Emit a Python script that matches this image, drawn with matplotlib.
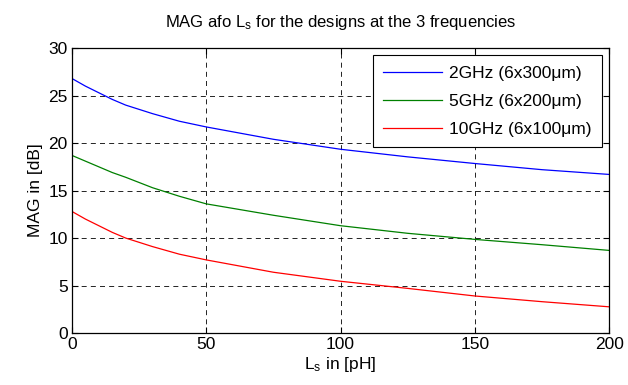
import matplotlib
matplotlib.use("Agg")
import matplotlib.pyplot as plt

plt.rcParams['font.family'] = ['Liberation Sans', 'DejaVu Sans']
plt.rcParams['mathtext.default'] = 'regular'

# Ls sweep in pH
ls = [0, 5, 10, 15, 20, 30, 40, 50, 75, 100, 125, 150, 175, 200]
mag_2g = [26.8, 26.0, 25.3, 24.6, 24.0, 23.1, 22.3, 21.7, 20.4, 19.35, 18.55, 17.85, 17.2, 16.7]
mag_5g = [18.7, 18.1, 17.5, 16.9, 16.4, 15.3, 14.4, 13.6, 12.4, 11.3, 10.5, 9.86, 9.3, 8.7]
mag_10g = [12.8, 12.0, 11.3, 10.6, 10.0, 9.1, 8.3, 7.7, 6.4, 5.45, 4.7, 3.9, 3.3, 2.76]
labels = ['2GHz (6x300μm)', '5GHz (6x200μm)', '10GHz (6x100μm)']

fig = plt.figure(figsize=(6.28, 3.85), dpi=100)
ax = fig.add_axes([0.1146, 0.135, 0.8554, 0.74])

ax.plot(ls, mag_2g, color='#0000ff', lw=0.9, label=labels[0])
ax.plot(ls, mag_5g, color='#008000', lw=0.9, label=labels[1])
ax.plot(ls, mag_10g, color='#ff0000', lw=0.9, label=labels[2])

ax.set_xlim(0, 200)
ax.set_ylim(0, 30)
ax.set_xticks([0, 50, 100, 150, 200])
ax.set_yticks([0, 5, 10, 15, 20, 25, 30])
ax.grid(True, color='black', linestyle=(0, (6, 5)), linewidth=0.6)
ax.tick_params(direction='in', top=True, right=True, labelsize=12.5, length=4, pad=3)
for s in ax.spines.values():
    s.set_linewidth(0.9)

ax.set_title('MAG afo L$_s$ for the designs at the 3 frequencies', fontsize=12, pad=15)
ax.set_xlabel('L$_s$ in [pH]', fontsize=12.5, labelpad=2)
ax.set_ylabel('MAG in [dB]', fontsize=12.5, labelpad=4)

leg = ax.legend(loc='upper right', fontsize=12.5, fancybox=False, framealpha=1,
                edgecolor='black', borderaxespad=0.4, handlelength=3.4,
                handletextpad=0.4, labelspacing=0.75, borderpad=0.6)
leg.get_frame().set_linewidth(0.8)

fig.savefig('out.png', dpi=100)
